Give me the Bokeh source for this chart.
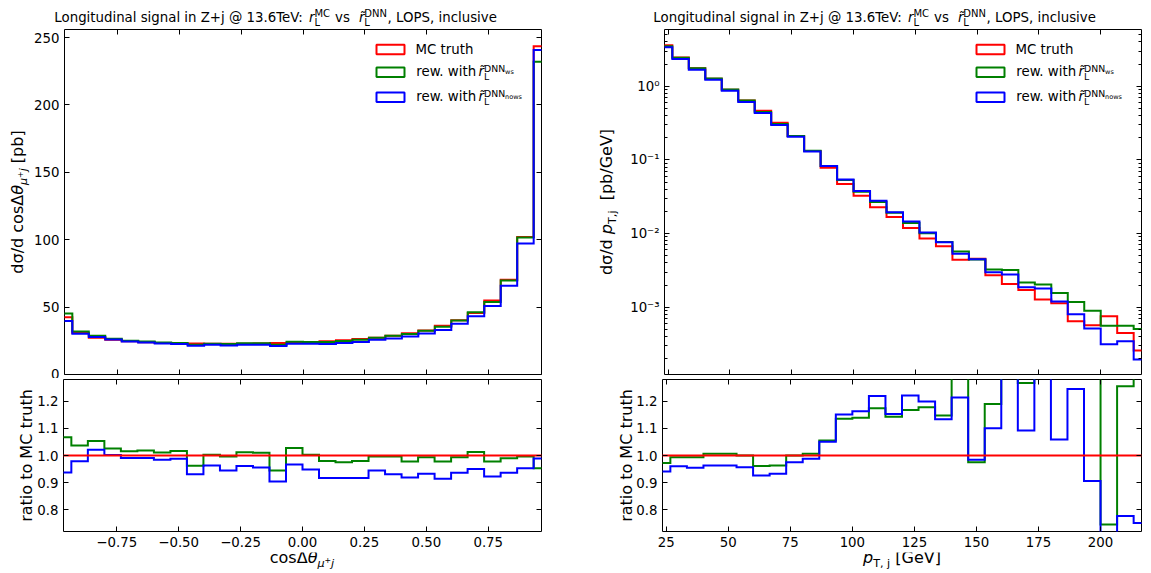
import math
from bokeh.plotting import figure
from bokeh.models import Range1d, LinearAxis, FixedTicker, CustomJSTickFormatter, Label, BoxAnnotation
from bokeh.layouts import column, row
from bokeh.embed import file_html
from bokeh.resources import INLINE

# ---------------- data ----------------
NBINS = 30
cos_lo, cos_hi = -1.0, 1.0
pt_lo, pt_hi = 20.0, 220.0

# cos(Delta theta) distribution [pb]
cos_mc = [42.4, 30.8, 27.3, 25.8, 24.7, 24.0, 23.4, 23.0, 23.0, 22.8,
          22.8, 22.9, 23.0, 23.3, 23.6, 24.0, 24.6, 25.4, 26.3, 27.3,
          28.8, 30.7, 32.7, 36.2, 40.2, 45.6, 55.0, 70.4, 102.0, 243.5]
cos_ws = [45.2, 31.9, 28.7, 26.5, 25.1, 24.4, 23.7, 23.4, 22.1, 22.9,
          22.7, 23.2, 23.2, 22.0, 24.3, 24.1, 24.1, 24.8, 25.8, 27.2,
          28.7, 30.0, 32.5, 35.4, 40.0, 46.2, 53.8, 69.7, 101.6, 232.1]
cos_nows = [39.7, 30.2, 27.9, 25.9, 24.5, 23.8, 23.0, 22.7, 21.4, 22.0,
            21.5, 22.0, 22.0, 21.1, 22.8, 22.8, 22.6, 23.3, 24.1, 25.8,
            26.8, 28.2, 30.5, 33.1, 37.6, 43.3, 50.8, 65.9, 97.2, 240.8]
cos_ratio_ws = [1.067, 1.037, 1.053, 1.026, 1.016, 1.018, 1.011, 1.017, 0.962, 1.003,
                0.996, 1.012, 1.010, 0.945, 1.028, 1.003, 0.980, 0.975, 0.980, 0.996,
                0.996, 0.978, 0.994, 0.978, 0.994, 1.013, 0.978, 0.990, 0.996, 0.953]
cos_ratio_nows = [0.937, 0.979, 1.021, 1.002, 0.991, 0.991, 0.984, 0.988, 0.931, 0.963,
                  0.945, 0.961, 0.956, 0.904, 0.967, 0.948, 0.917, 0.917, 0.917, 0.945,
                  0.931, 0.919, 0.933, 0.914, 0.936, 0.950, 0.923, 0.936, 0.953, 0.989]

# pT,j distribution [pb/GeV]
pt_mc = [3.60, 2.45, 1.76, 1.27, 0.90, 0.64, 0.467, 0.320, 0.211, 0.132,
         0.0785, 0.0470, 0.0325, 0.0228, 0.0168, 0.0119, 0.0086, 0.0067, 0.0044, 0.00455,
         0.00272, 0.00207, 0.00171, 0.00127, 0.00113, 0.000643, 0.000567, 0.000751, 0.000445, 0.000259]
pt_ws = [3.50, 2.435, 1.75, 1.278, 0.905, 0.640, 0.449, 0.308, 0.211, 0.1328,
         0.0828, 0.0533, 0.0370, 0.0268, 0.0192, 0.0139, 0.0101, 0.00768, 0.00572, 0.00444,
         0.00324, 0.00320, 0.00217, 0.00203, 0.00156, 0.00118, 0.000898, 0.000560, 0.000558, 0.000505]
pt_nows = [3.39, 2.35, 1.68, 1.223, 0.867, 0.612, 0.432, 0.2986, 0.2057, 0.1304,
           0.0825, 0.0541, 0.0378, 0.0278, 0.0194, 0.01453, 0.01031, 0.0076, 0.00534, 0.00448,
           0.00299, 0.00278, 0.00187, 0.00179, 0.00120, 0.00080, 0.000514, 0.000315, 0.000346, 0.000195]
pt_ratio_ws = [0.972, 0.994, 0.994, 1.006, 1.006, 1.000, 0.961, 0.963, 1.000, 1.006,
               1.055, 1.135, 1.139, 1.174, 1.143, 1.168, 1.178, 1.147, 1.300, 0.975,
               1.190, 1.550, 1.267, 1.600, 1.380, 1.830, 1.580, 0.746, 1.255, 1.950]
pt_ratio_nows = [0.941, 0.960, 0.955, 0.963, 0.963, 0.957, 0.926, 0.933, 0.975, 0.988,
                 1.051, 1.151, 1.163, 1.219, 1.153, 1.221, 1.199, 1.134, 1.214, 0.984,
                 1.100, 1.340, 1.092, 1.410, 1.059, 1.245, 0.906, 0.420, 0.777, 0.751]

cos_xticks = [-0.75, -0.5, -0.25, 0.0, 0.25, 0.5, 0.75]
cos_yticks = [0, 50, 100, 150, 200, 250]
pt_xticks = [25, 50, 75, 100, 125, 150, 175, 200]
pt_yticks = [1e-3, 1e-2, 1e-1, 1.0]
pt_yminor = [k * 10.0 ** e for e in range(-4, 1) for k in range(2, 10)]
ratio_yticks = [0.8, 0.9, 1.0, 1.1, 1.2]

C_MC, C_WS, C_NOWS = "#ff0000", "#008000", "#0000ff"
FONT = "DejaVu Sans"

# ---------------- helpers ----------------
CW = {' ': .318, 'a': .613, 'b': .635, 'c': .550, 'd': .635, 'e': .615, 'f': .352, 'g': .635, 'h': .634,
      'i': .278, 'j': .278, 'k': .579, 'l': .278, 'm': .974, 'n': .634, 'o': .612, 'p': .635, 'q': .635,
      'r': .411, 's': .521, 't': .392, 'u': .634, 'v': .592, 'w': .818, 'x': .592, 'y': .592, 'z': .525,
      'A': .684, 'B': .686, 'C': .698, 'D': .770, 'E': .632, 'F': .575, 'G': .775, 'H': .752, 'I': .295,
      'J': .295, 'K': .656, 'L': .557, 'M': .863, 'N': .748, 'O': .787, 'P': .603, 'Q': .787, 'R': .695,
      'S': .635, 'T': .611, 'U': .732, 'V': .684, 'W': .989, 'X': .685, 'Y': .611, 'Z': .685,
      '.': .318, ',': .318, ':': .337, '+': .838, '@': 1.0, '/': .337, '[': .390, ']': .390,
      'σ': .634, 'θ': .612, 'Δ': .684, 'μ': .636, '\u0303': 0.0}
for d in "0123456789":
    CW[d] = .636
MID = 0.35  # distance from baseline to text middle, in em


def tw(s, size):
    return sum(CW.get(c, 0.6) for c in s) * size


def rich(p, pieces, base, along, rotate=False, center=False):
    """pieces: (text, size, italic, rise, advance or None); coordinates relative to the frame.
    Each piece is drawn centred on its own middle point, so rotation cannot shift it."""
    advs = [a if a is not None else tw(t, s) for t, s, it, r, a in pieces]
    pos = along - sum(advs) / 2 if center else along
    for (t, s, it, r, a), adv in zip(pieces, advs):
        core = t.strip(' ')
        lead = tw(t[:len(t) - len(t.lstrip(' '))], s)
        mid = pos + lead + tw(core, s) / 2
        kw = dict(text=core, x_units="screen", y_units="screen", text_font=FONT,
                  text_font_size=f"{s}px", text_font_style="italic" if it else "normal",
                  text_color="black", text_baseline="middle", text_align="center")
        if rotate:
            p.add_layout(Label(x=base - r - MID * s, y=mid, angle=math.pi / 2, **kw))
        else:
            p.add_layout(Label(x=mid, y=base + r + MID * s, **kw))
        pos += adv


def bare_fig(w, h, xr=(0, 1), yr=(0, 1), ylog=False):
    p = figure(width=w, height=h, x_range=Range1d(*xr), y_range=Range1d(*yr),
               y_axis_type="log" if ylog else "linear", x_axis_location=None,
               y_axis_location=None, tools="", toolbar_location=None, output_backend="svg")
    p.min_border_left = p.min_border_right = p.min_border_top = p.min_border_bottom = 0
    p.grid.visible = False
    p.outline_line_color = None
    p.background_fill_color = "white"
    p.border_fill_color = "white"
    return p


def plot_fig(w, h, xr, yr, borders, ylog=False):
    p = bare_fig(w, h, xr, yr, ylog)
    p.min_border_left, p.min_border_right, p.min_border_top, p.min_border_bottom = borders
    p.outline_line_color = "black"
    p.outline_line_width = 1
    return p


def add_axis(p, side, ticks, code=None, minor=None):
    ax = LinearAxis(ticker=FixedTicker(ticks=ticks, minor_ticks=minor or []),
                    axis_line_color=None, major_tick_in=5, major_tick_out=0,
                    minor_tick_in=3 if minor else 0, minor_tick_out=0,
                    major_tick_line_color="black", minor_tick_line_color="black",
                    major_tick_line_width=1, minor_tick_line_width=1)
    if code:
        ax.formatter = CustomJSTickFormatter(code=code)
        ax.major_label_text_font = FONT
        ax.major_label_text_font_size = "13.33px"
        ax.major_label_text_color = "black"
        ax.major_label_standoff = 5
    else:
        ax.major_label_text_font_size = "0px"
        ax.major_label_text_color = None
        ax.major_label_standoff = 0
    p.add_layout(ax, side)


def hist(p, edges, vals, color):
    p.step(x=edges, y=list(vals) + [vals[-1]], mode="after", line_color=color,
           line_width=2, line_join="miter")


def legend(p):
    T, S = 13.33, 9.33
    rows = [(C_MC, 320.7, [("MC truth", T, False, 0, None)]),
            (C_WS, 298.0, [("rew. with", T, False, 0, 63.0), ("r\u0303", T, True, 0, None),
                           ("L", S, False, -3.5, 0), ("DNN", S, False, 4.5, None),
                           ("ws", 6.5, False, 2.5, None)]),
            (C_NOWS, 273.0, [("rew. with", T, False, 0, 63.0), ("r\u0303", T, True, 0, None),
                             ("L", S, False, -3.5, 0), ("DNN", S, False, 4.5, None),
                             ("nows", 6.5, False, 2.5, None)])]
    for color, base, pieces in rows:
        p.add_layout(BoxAnnotation(left=312, right=340, bottom=base - 0.5, top=base + 9,
                                   left_units="screen", right_units="screen",
                                   bottom_units="screen", top_units="screen",
                                   fill_color=None, fill_alpha=0, line_color=color,
                                   line_alpha=1.0, line_width=2))
        rich(p, pieces, base, 351)


def title(p, x0, base):
    T, S = 13.33, 10.0
    pieces = [("Longitudinal signal in Z+j @ 13.6TeV:", T, False, 0, 256.4),
              ("r", T, True, 0, None), ("L", S, False, -3.0, 0), ("MC", S, False, 5.7, 16.5),
              (" vs", T, False, 0, 28.0), ("r\u0303", T, True, 0, None), ("L", S, False, -3.0, 0),
              ("DNN", S, False, 5.7, 23.0), (", LOPS, inclusive", T, False, 0, None)]
    rich(p, pieces, base, x0)


CODE_COS = "return tick.toFixed(2).replace('-', '\u2212');"
CODE_INT = "return tick.toFixed(0);"
CODE_R = "return tick.toFixed(1);"
CODE_LOG = ("const e = Math.round(Math.log10(tick));"
            "const m = {'-':'\u207b','0':'\u2070','1':'\u00b9','2':'\u00b2','3':'\u00b3','4':'\u2074'};"
            "return '10' + String(e).split('').map(c => m[c]).join('');")

# ---------------- geometry (pixels) ----------------
FW, MH, RH = 479, 345, 152
COL_L, COL_R = 575, 574
TITLE_H, XLAB_H = 28, 20
M_T, M_B = 1, 4
R_T, R_B = 1, 21
MAIN_H = M_T + MH + M_B
RAT_H = R_T + RH + R_B
YL_LM, YL_LR, YL_RM, YL_RR = 31, 34, 52, 58

cos_edges = [cos_lo + (cos_hi - cos_lo) * i / NBINS for i in range(NBINS + 1)]
pt_edges = [pt_lo + (pt_hi - pt_lo) * i / NBINS for i in range(NBINS + 1)]
cos_xr = (-0.965, 0.965)
pt_xr = (23.5, 216.5)
ratio_yr = (0.72, 1.28)

# ---------------- title row ----------------
tL = bare_fig(COL_L, TITLE_H)
title(tL, 52, TITLE_H - 22)
tR = bare_fig(COL_R, TITLE_H)
title(tR, 76, TITLE_H - 22)

# ---------------- main row ----------------
mL_w = COL_L - YL_LM
mL = plot_fig(mL_w, MAIN_H, cos_xr, (0, 256), (31, mL_w - 31 - FW, M_T, M_B))
add_axis(mL, "left", cos_yticks, CODE_INT)
add_axis(mL, "right", cos_yticks)
add_axis(mL, "below", cos_xticks)
add_axis(mL, "above", cos_xticks)
hist(mL, cos_edges, cos_mc, C_MC)
hist(mL, cos_edges, cos_ws, C_WS)
hist(mL, cos_edges, cos_nows, C_NOWS)
legend(mL)

# label strips share the frame of the plot next to them (row alignment)
ylm = bare_fig(YL_LM, MAIN_H)
rich(ylm, [("d\u03c3/d", 16, False, 0, tw("d\u03c3/d ", 16)), ("cos\u0394", 16, False, 0, None),
           ("\u03b8", 16, True, 0, None), ("\u03bc", 11.2, True, -3.5, None),
           ("+", 7.84, False, 1.0, None), ("j", 11.2, True, -3.5, None),
           (" [pb]", 16, False, 0, None)], 23, MH / 2, rotate=True, center=True)

mR_w = COL_R - YL_RM
mR = plot_fig(mR_w, MAIN_H, pt_xr, (1.22e-4, 5.9), (35, mR_w - 35 - FW, M_T, M_B), ylog=True)
add_axis(mR, "left", pt_yticks, CODE_LOG, pt_yminor)
add_axis(mR, "right", pt_yticks, None, pt_yminor)
add_axis(mR, "below", pt_xticks)
add_axis(mR, "above", pt_xticks)
hist(mR, pt_edges, pt_mc, C_MC)
hist(mR, pt_edges, pt_ws, C_WS)
hist(mR, pt_edges, pt_nows, C_NOWS)
legend(mR)

yrm = bare_fig(YL_RM, MAIN_H)
rich(yrm, [("d\u03c3/d", 16, False, 0, tw("d\u03c3/d ", 16)), ("p", 16, True, 0, None),
           ("T,j", 11.2, False, -3.5, None), ("  [pb/GeV]", 16, False, 0, None)],
     37, MH / 2, rotate=True, center=True)

# ---------------- ratio row ----------------
rL_w = COL_L - YL_LR
rL = plot_fig(rL_w, RAT_H, cos_xr, ratio_yr, (28, rL_w - 28 - FW, R_T, R_B))
add_axis(rL, "left", ratio_yticks, CODE_R)
add_axis(rL, "right", ratio_yticks)
add_axis(rL, "below", cos_xticks, CODE_COS)
add_axis(rL, "above", cos_xticks)
hist(rL, cos_edges, cos_ratio_ws, C_WS)
hist(rL, cos_edges, cos_ratio_nows, C_NOWS)
hist(rL, cos_edges, [v / v for v in cos_mc], C_MC)

ylr = bare_fig(YL_LR, RAT_H)
rich(ylr, [("ratio to MC truth", 16, False, 0, None)], 32, RH / 2, rotate=True, center=True)

rR_w = COL_R - YL_RR
rR = plot_fig(rR_w, RAT_H, pt_xr, ratio_yr, (29, rR_w - 29 - FW, R_T, R_B))
add_axis(rR, "left", ratio_yticks, CODE_R)
add_axis(rR, "right", ratio_yticks)
add_axis(rR, "below", pt_xticks, CODE_INT)
add_axis(rR, "above", pt_xticks)
hist(rR, pt_edges, pt_ratio_ws, C_WS)
hist(rR, pt_edges, pt_ratio_nows, C_NOWS)
hist(rR, pt_edges, [v / v for v in pt_mc], C_MC)

yrr = bare_fig(YL_RR, RAT_H)
rich(yrr, [("ratio to MC truth", 16, False, 0, None)], 57, RH / 2, rotate=True, center=True)

# ---------------- x-label row ----------------
xL = bare_fig(COL_L, XLAB_H)
rich(xL, [("cos\u0394", 16, False, 0, None), ("\u03b8", 16, True, 0, None),
          ("\u03bc", 11.2, True, -3.5, None), ("+", 7.84, False, 1.0, None),
          ("j", 11.2, True, -3.5, None)], XLAB_H - 11, 301.5, center=True)
xR = bare_fig(COL_R, XLAB_H)
rich(xR, [("p", 16, True, 0, None), ("T, j", 11.2, False, -3.5, None),
          (" [GeV]", 16, False, 0, None)], XLAB_H - 11, 326.5, center=True)

layout = column(row(tL, tR),
                row(ylm, mL, yrm, mR),
                row(ylr, rL, yrr, rR),
                row(xL, xR))
open("out.html", "w").write(file_html(layout, INLINE))
